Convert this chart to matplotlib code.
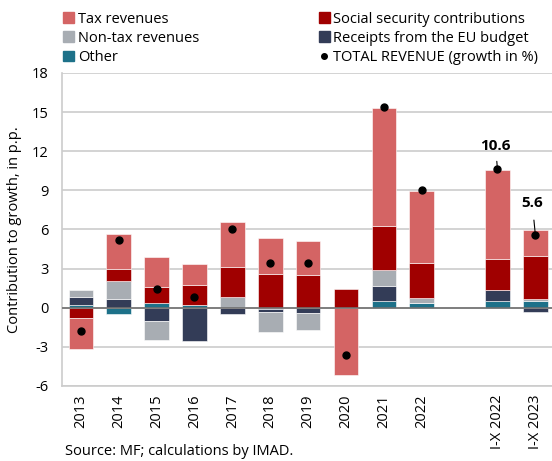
import numpy as np
import matplotlib.pyplot as plt
from matplotlib.patches import Patch
from matplotlib.lines import Line2D

plt.rcParams['font.family'] = ['Open Sans', 'DejaVu Sans']
plt.rcParams['axes.unicode_minus'] = False

labels = ["2013", "2014", "2015", "2016", "2017", "2018", "2019", "2020",
          "2021", "2022", "I-X 2022", "I-X 2023"]
positions = [0, 1, 2, 3, 4, 5, 6, 7, 8, 9, 11, 12]

tax = [-2.37, 2.73, 2.27, 1.63, 3.44, 2.76, 2.60, -5.12, 9.05, 5.58, 6.86, 1.97]
social = [-0.77, 0.92, 1.28, 1.56, 2.34, 2.55, 2.50, 1.45, 3.42, 2.66, 2.38, 3.32]
non_tax = [0.54, 1.35, -1.45, 0.0, 0.80, -1.53, -1.30, 0.0, 1.20, 0.38, 0.0, 0.10]
eu = [0.59, 0.69, -1.02, -2.55, -0.51, -0.27, -0.41, 0.0, 1.17, 0.0, 0.86, -0.33]
other = [0.20, -0.48, 0.33, 0.18, 0.0, -0.08, 0.0, 0.0, 0.49, 0.36, 0.49, 0.54]
total = [-1.79, 5.18, 1.43, 0.82, 6.05, 3.44, 3.44, -3.65, 15.38, 9.0, 10.6, 5.6]

colors = {
    "Tax revenues": "#d46464",
    "Social security contributions": "#a00000",
    "Non-tax revenues": "#a8adb3",
    "Receipts from the EU budget": "#333c57",
    "Other": "#1d7189",
}

fig = plt.figure(figsize=(5.52, 4.61), dpi=100)
ax = fig.add_axes([0.1128, 0.1627, 0.8872, 0.679])

# stacked from the zero line outward: Other, EU, Non-tax, Social, Tax
stack = [("Other", other), ("Receipts from the EU budget", eu),
         ("Non-tax revenues", non_tax), ("Social security contributions", social),
         ("Tax revenues", tax)]
pos_base = np.zeros(len(positions))
neg_base = np.zeros(len(positions))
for name, vals in stack:
    vals = np.array(vals)
    bottoms = np.where(vals >= 0, pos_base, neg_base)
    ax.bar(positions, vals, bottom=bottoms, width=0.65, color=colors[name],
           edgecolor="#ffffff", linewidth=0.4, zorder=3)
    pos_base += np.where(vals >= 0, vals, 0)
    neg_base += np.where(vals < 0, vals, 0)

ax.plot(positions, total, "o", color="black", markersize=5, zorder=5)

# value labels for the two latest periods
ax.annotate("10.6", xy=(positions[10], total[10]), xytext=(positions[10] - 0.05, 12.4),
            ha="center", va="center", fontsize=11, fontweight="bold",
            arrowprops=dict(arrowstyle="-", color="black", lw=0.8, shrinkA=4, shrinkB=2))
ax.annotate("5.6", xy=(positions[11], total[11]), xytext=(positions[11] - 0.08, 8.0),
            ha="center", va="center", fontsize=11, fontweight="bold",
            arrowprops=dict(arrowstyle="-", color="black", lw=0.8, shrinkA=5, shrinkB=2))

ax.set_ylim(-6, 18)
ax.set_yticks(np.arange(-6, 19, 3))
ax.set_xlim(-0.49, 12.44)
ax.set_xticks(positions)
ax.set_xticklabels(labels, rotation=90, fontsize=10.5)
ax.tick_params(axis="y", length=0, labelsize=10.5, pad=10)
ax.tick_params(axis="x", length=0, pad=6)
ax.grid(axis="y", color="#cccccc", linewidth=1.2, zorder=0)
ax.axhline(0, color="#707070", linewidth=1.2, zorder=4)
for side in ["top", "right"]:
    ax.spines[side].set_visible(False)
ax.spines["left"].set_color("#cccccc")
ax.spines["bottom"].set_color("#cccccc")
ax.spines["left"].set_linewidth(1.2)
ax.spines["bottom"].set_linewidth(1.2)
ax.set_ylabel("Contribution to growth, in p.p.", fontsize=10.5, labelpad=7)

handles = [Patch(color=colors["Tax revenues"]),
           Patch(color=colors["Non-tax revenues"]),
           Patch(color=colors["Other"]),
           Patch(color=colors["Social security contributions"]),
           Patch(color=colors["Receipts from the EU budget"]),
           Line2D([], [], marker="o", color="black", linestyle="none", markersize=4)]
names = ["Tax revenues", "Non-tax revenues", "Other",
         "Social security contributions", "Receipts from the EU budget",
         "TOTAL REVENUE (growth in %)"]
fig.legend(handles, names, ncol=2, loc="upper left", bbox_to_anchor=(0.088, 1.006),
           frameon=False, fontsize=10.5, handlelength=0.75, handleheight=0.75,
           handletextpad=0.25, columnspacing=8.2, labelspacing=0.28, borderpad=0.5)

fig.text(0.117, 0.014, "Source: MF; calculations by IMAD.", fontsize=10.5)

fig.savefig("out.png", dpi=100)
